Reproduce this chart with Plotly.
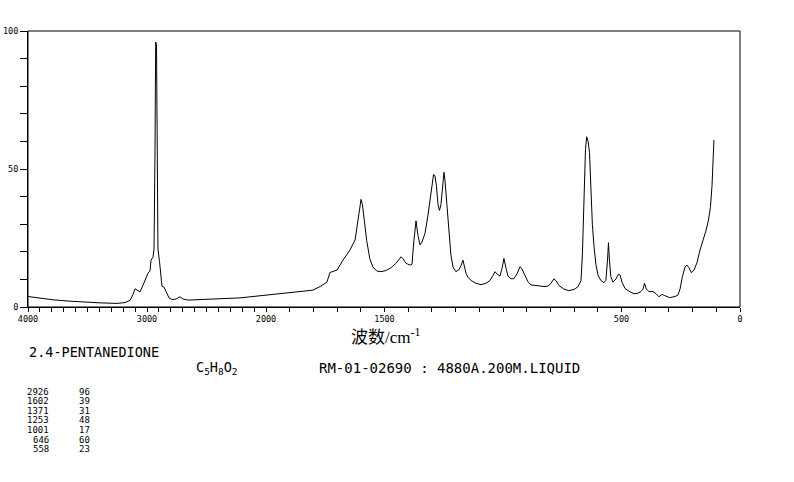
import plotly.graph_objects as go

# Raman spectrum of 2,4-pentanedione (wavenumber cm-1, relative intensity)
wavenumber = [
    4000, 3899, 3790, 3647, 3504, 3395, 3252, 3185, 3143, 3118, 3101, 3084, 3059, 3034,
    3008, 2992, 2975, 2966, 2950, 2941, 2933, 2927, 2920, 2916, 2908, 2895, 2882, 2874,
    2857, 2840, 2815, 2790, 2756, 2723, 2698, 2656, 2555, 2387, 2219, 2109, 2050, 2000,
    1941, 1899, 1857, 1802, 1772, 1743, 1730, 1717, 1700, 1675, 1646, 1624, 1612, 1603,
    1599, 1593, 1587, 1575, 1562, 1549, 1532, 1515, 1494, 1473, 1452, 1430, 1422, 1409,
    1392, 1384, 1376, 1367, 1359, 1350, 1342, 1329, 1317, 1308, 1300, 1293, 1287, 1281,
    1274, 1268, 1262, 1253, 1249, 1245, 1237, 1228, 1220, 1211, 1199, 1186, 1177, 1169,
    1163, 1156, 1148, 1135, 1114, 1093, 1072, 1055, 1042, 1034, 1023, 1013, 1004, 996,
    987, 979, 966, 954, 941, 928, 920, 907, 895, 882, 857, 823, 810, 798, 785, 776, 764,
    743, 722, 700, 684, 671, 665, 658, 652, 647, 641, 635, 629, 623, 616, 608, 599, 587,
    574, 566, 559, 555, 551, 545, 536, 523, 513, 506, 498, 485, 468, 447, 431, 418, 409,
    403, 395, 384, 367, 354, 342, 329, 317, 296, 274, 262, 253, 243, 232, 224, 215, 205,
    194, 181, 169, 156, 144, 133, 125, 118, 114, 110,
]
intensity = [
    3.8, 3.2, 2.6, 2.1, 1.7, 1.5, 1.3, 1.6, 2.4, 4.5, 6.6, 6.2, 5.5, 7.8,
    11.0, 12.3, 13.0, 17.0, 18.0, 21.0, 55.0, 96.0, 95.0, 50.0, 21.0, 16.5, 10.0, 7.5,
    7.2, 5.5, 3.3, 2.7, 2.9, 3.7, 2.9, 2.5, 2.6, 3.0, 3.3, 3.8, 4.1, 4.3,
    4.8, 5.1, 5.7, 6.1, 7.4, 9.0, 12.5, 13.0, 13.4, 17.0, 20.6, 24.3, 32.0, 38.0,
    39.0, 37.0, 32.7, 24.0, 17.5, 14.5, 13.0, 12.8, 13.2, 14.2, 15.8, 18.2, 17.5, 15.8,
    15.2, 15.5, 24.0, 31.2, 26.0, 22.5, 23.5, 26.7, 33.0, 38.8, 45.0, 48.0, 47.5, 44.0,
    37.0, 35.0, 37.0, 47.0, 48.8, 46.0, 38.0, 28.0, 19.0, 14.5, 12.8, 13.5, 15.0, 17.0,
    15.0, 12.2, 10.8, 9.6, 8.6, 8.1, 8.6, 9.6, 11.5, 12.8, 11.8, 11.2, 14.0, 17.6,
    14.0, 11.2, 10.2, 10.3, 12.0, 14.6, 13.8, 11.5, 9.2, 8.0, 7.7, 7.4, 7.6, 8.5, 10.2, 9.5, 7.8,
    6.5, 5.9, 6.4, 7.3, 9.5, 19.0, 43.0, 57.0, 61.7, 60.0, 56.0, 43.0, 30.0, 22.0, 15.5, 11.5, 9.6,
    8.8, 9.6, 17.0, 23.3, 17.0, 11.0, 9.0, 10.2, 11.9, 11.6, 9.0, 6.7, 5.7, 4.8, 5.0, 5.6, 6.5,
    8.6, 6.5, 5.6, 5.6, 4.8, 3.7, 4.6, 4.1, 3.4, 3.8, 4.3, 6.5, 11.0, 14.5, 15.2, 14.2, 12.4,
    13.4, 16.2, 20.6, 24.0, 27.5, 31.5, 36.0, 44.0, 52.0, 60.5,
]

peak_wavenumbers = ["2926", "1602", "1371", "1253", "1001", "646", "558"]
peak_intensities = ["96", "39", "31", "48", "17", "60", "23"]

compound_name = "2.4-PENTANEDIONE"
formula = "C<sub>5</sub>H<sub>8</sub>O<sub>2</sub>"
record_info = "RM-01-02690 : 4880A.200M.LIQUID"
axis_title = "波数/cm<sup>-1</sup>"

left_labels = [4000, 3000]
right_labels = [2000, 1500, 500, 0]
y_labels = [0, 50, 100]

W, H = 794, 482
# target plot area in page pixels: x 28..740, y 31..307
PL, PR, PT, PB = 28, 740, 31, 307
ML, MR, MT, MB = PL, W - PR, PT, H - PB
plot_w = PR - PL
plot_h = PB - PT
split = 238 / 712  # 4000-2000 occupies the left third (compressed scale)

left_x = [w for w in wavenumber if w >= 2000]
left_y = [i for w, i in zip(wavenumber, intensity) if w >= 2000]
right_x = [w for w in wavenumber if w <= 2000]
right_y = [i for w, i in zip(wavenumber, intensity) if w <= 2000]

fig = go.Figure()
line_style = dict(color="black", width=1)
fig.add_trace(go.Scatter(x=left_x, y=left_y, mode="lines", line=line_style,
                         xaxis="x", yaxis="y", showlegend=False, hoverinfo="skip"))
fig.add_trace(go.Scatter(x=right_x, y=right_y, mode="lines", line=line_style,
                         xaxis="x2", yaxis="y", showlegend=False, hoverinfo="skip"))

tick_font = dict(family="DejaVu Sans Mono", size=8.5, color="black")
common_x = dict(showgrid=False, zeroline=False, showline=True, linecolor="black",
                linewidth=1, ticks="outside", ticklen=4, tickcolor="black",
                tickwidth=1, tickfont=tick_font, tickmode="array", automargin=False,
                anchor="y",
                minor=dict(tickmode="linear", tick0=0, dtick=100, ticks="outside",
                           ticklen=4, tickcolor="black", tickwidth=1, showgrid=False))

fig.update_layout(
    xaxis=dict(domain=[0, split], range=[4000, 2000], tickvals=left_labels,
               ticktext=[str(t) for t in left_labels], **common_x),
    xaxis2=dict(domain=[split, 1], range=[2000, 0], tickvals=right_labels,
                ticktext=[str(t) for t in right_labels], **common_x),
    yaxis=dict(domain=[0, 1], range=[0, 100], anchor="x", tickmode="array",
               tickvals=y_labels, ticktext=[str(t) for t in y_labels],
               automargin=False, showgrid=False, zeroline=False, showline=True,
               linecolor="black", linewidth=1, ticks="outside", ticklen=7,
               tickcolor="black", tickfont=tick_font,
               minor=dict(tickmode="linear", tick0=0, dtick=10, ticks="outside",
                          ticklen=7, tickcolor="black", tickwidth=1, showgrid=False)),
)

fig.add_shape(type="rect", xref="paper", yref="paper", x0=0, x1=1, y0=0, y1=1,
              line=dict(color="black", width=1), fillcolor="rgba(0,0,0,0)")


def px_x(px):
    return (px - PL) / plot_w


def px_y(py):
    return (PB - py) / plot_h


mono = "DejaVu Sans Mono"
annotations = [
    dict(text=axis_title, x=px_x(385), y=px_y(336), xanchor="center", yanchor="middle",
         font=dict(family="Liberation Serif, Noto Sans CJK SC", size=17, color="black")),
    dict(text=compound_name, x=px_x(27), y=px_y(352), xanchor="left", yanchor="middle",
         font=dict(family=mono, size=13.5, color="black")),
    dict(text=formula, x=px_x(194), y=px_y(368), xanchor="left", yanchor="middle",
         font=dict(family=mono, size=13.5, color="black")),
    dict(text=record_info, x=px_x(317), y=px_y(368), xanchor="left", yanchor="middle",
         font=dict(family=mono, size=14, color="black")),
]
row_y0, row_dy = 391.5, 9.6
for k, (pw, pi) in enumerate(zip(peak_wavenumbers, peak_intensities)):
    yy = px_y(row_y0 + k * row_dy)
    annotations.append(dict(text=pw, x=px_x(51), y=yy, xanchor="right", yanchor="middle",
                            font=dict(family=mono, size=9, color="black")))
    annotations.append(dict(text=pi, x=px_x(77), y=yy, xanchor="left", yanchor="middle",
                            font=dict(family=mono, size=9, color="black")))
for a in annotations:
    a.update(xref="paper", yref="paper", showarrow=False)

fig.update_layout(width=W, height=H,
                  margin=dict(l=ML, r=MR, t=MT, b=MB, autoexpand=False),
                  paper_bgcolor="white", plot_bgcolor="white",
                  annotations=annotations)

fig.write_html(
    "out.html",
    config={"displayModeBar": False},
    post_script="document.body.style.margin='0';document.body.style.overflow='hidden';",
)
